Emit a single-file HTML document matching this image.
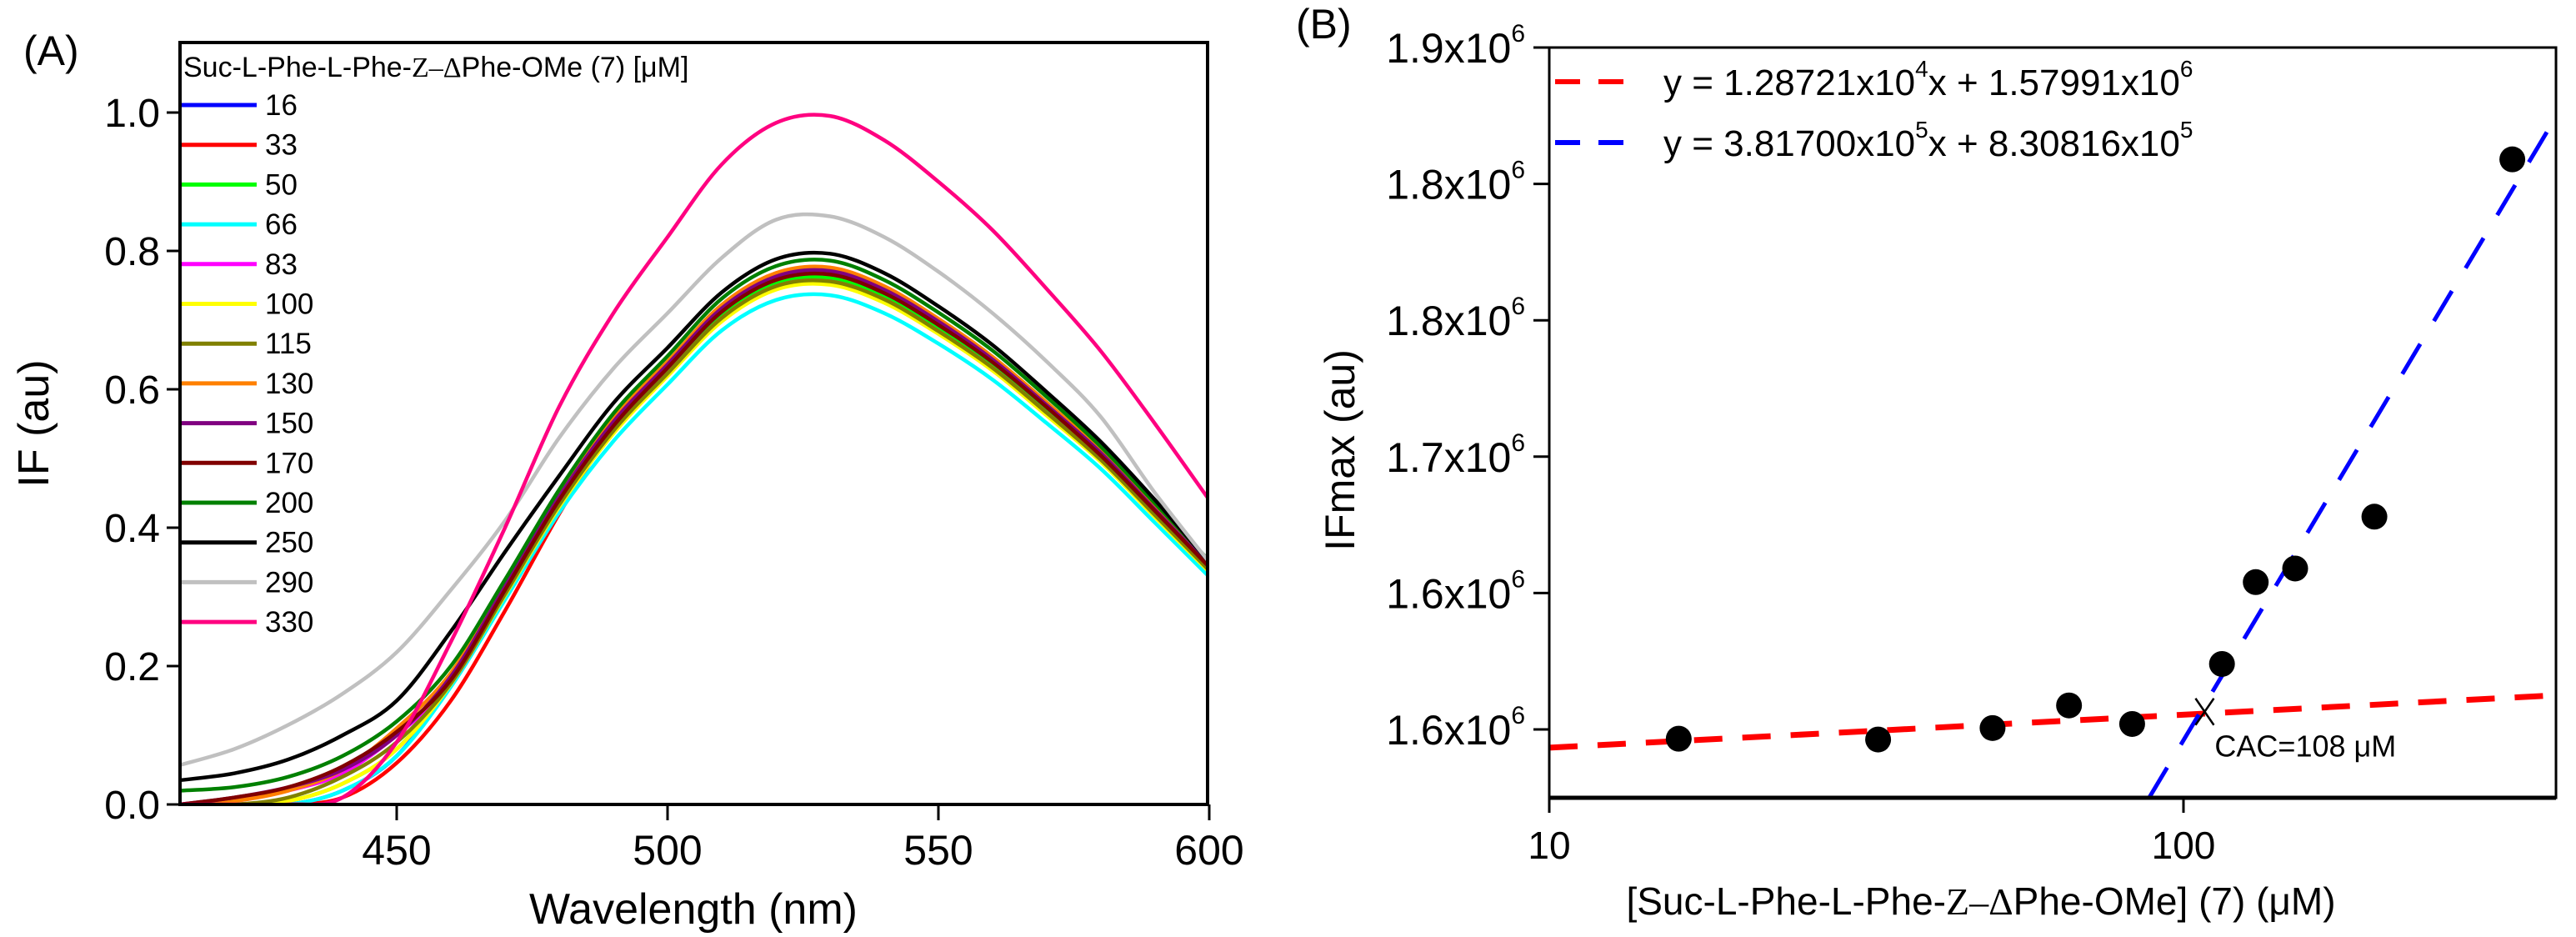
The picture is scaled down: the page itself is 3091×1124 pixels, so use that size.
<!DOCTYPE html>
<html><head><meta charset="utf-8"><style>
html,body{margin:0;padding:0;background:#fff}
svg{display:block;font-family:"Liberation Sans",sans-serif}
</style></head><body>
<svg id="fig" width="3091" height="1124" viewBox="0 0 3091 1124" xmlns="http://www.w3.org/2000/svg">
<defs>
<clipPath id="clipA"><rect x="216" y="51" width="1233" height="914"/></clipPath>
<clipPath id="clipB"><rect x="1859" y="57" width="1208" height="900"/></clipPath>
</defs>
<g id="panelA"></g>
<g id="panelB"></g>
</svg>
<script>
// ---------- Panel A data ----------
const wavelengths = [410,420,430,440,450,460,470,480,490,500,510,520,530,540,550,560,570,580,590,600];
const seriesLabels = ["16","33","50","66","83","100","115","130","150","170","200","250","290","330"];
const seriesColors = ["#0000ff","#ff0000","#00ff00","#00ffff","#ff00ff","#ffff00","#808000","#ff8000","#800080","#800000","#008000","#000000","#c0c0c0","#ff0080"];
const s16  = [0,0,0,0.02,0.07,0.175,0.304,0.433,0.540,0.623,0.703,0.749,0.756,0.730,0.684,0.631,0.566,0.498,0.418,0.338];
const s33  = [0,0,0,0.01,0.06,0.150,0.280,0.420,0.543,0.627,0.708,0.754,0.761,0.734,0.689,0.635,0.570,0.501,0.421,0.340];
const s50  = [0,0,0.005,0.03,0.08,0.176,0.306,0.436,0.543,0.627,0.708,0.754,0.761,0.734,0.689,0.635,0.570,0.501,0.421,0.340];
const s66  = [0,0,0,0.02,0.07,0.170,0.296,0.422,0.525,0.607,0.685,0.729,0.736,0.710,0.666,0.614,0.551,0.485,0.407,0.329];
const s83  = [0,0.005,0.02,0.045,0.10,0.175,0.304,0.433,0.540,0.623,0.703,0.749,0.756,0.730,0.684,0.631,0.566,0.498,0.418,0.338];
const s100 = [0,0,0.005,0.03,0.08,0.174,0.302,0.430,0.536,0.619,0.698,0.744,0.751,0.725,0.680,0.627,0.562,0.495,0.415,0.336];
const s115 = [0,0,0.01,0.04,0.09,0.175,0.304,0.433,0.540,0.623,0.703,0.749,0.756,0.730,0.684,0.631,0.566,0.498,0.418,0.338];
const s130 = [0,0.005,0.02,0.05,0.11,0.190,0.320,0.450,0.560,0.640,0.722,0.768,0.776,0.749,0.702,0.647,0.581,0.511,0.429,0.347];
const s150 = [0,0.01,0.025,0.05,0.10,0.185,0.315,0.445,0.553,0.636,0.717,0.763,0.771,0.744,0.698,0.643,0.577,0.508,0.426,0.345];
const s170 = [0,0.01,0.025,0.055,0.105,0.180,0.310,0.440,0.547,0.631,0.712,0.758,0.766,0.739,0.693,0.639,0.574,0.504,0.424,0.343];
const s200 = [0.02,0.025,0.04,0.07,0.12,0.200,0.325,0.455,0.565,0.648,0.731,0.778,0.786,0.758,0.711,0.656,0.589,0.517,0.435,0.352];
const s250 = [0.035,0.045,0.065,0.10,0.15,0.250,0.365,0.475,0.580,0.660,0.740,0.788,0.796,0.768,0.720,0.664,0.596,0.524,0.440,0.350];
const s290 = [0.057,0.08,0.115,0.16,0.22,0.310,0.410,0.530,0.630,0.710,0.790,0.845,0.850,0.820,0.770,0.710,0.640,0.560,0.450,0.350];
const s330 = [0,0,0,0.01,0.09,0.235,0.400,0.575,0.710,0.820,0.925,0.985,0.995,0.960,0.900,0.830,0.745,0.655,0.550,0.440];
const seriesValues = [s16,s33,s50,s66,s83,s100,s115,s130,s150,s170,s200,s250,s290,s330];
const xTicksA = [450,500,550,600];
const yTicksA = [0.0,0.2,0.4,0.6,0.8,1.0];

// ---------- Panel B data ----------
const concentrations = [16,33,50,66,83,115,130,150,200,330];
const ifMax = [1.6466,1.6463,1.6505,1.6588,1.652,1.674,1.704,1.709,1.728,1.859];
const yTickValsB = [1.65,1.70,1.75,1.80,1.85,1.90];
const yTickLabelsB = ["1.6","1.6","1.7","1.8","1.8","1.9"];
const xTicksB = [10,100];
const redFitX = [10,386];
const redFitY = [1.6433,1.6625];
const blueFitX = [88.3,386];
const blueFitY = [1.625,1.8743];
const cacPoint = [108,1.6565];

const NS="http://www.w3.org/2000/svg";
function mk(tag,attrs,parent){const e=document.createElementNS(NS,tag);for(const k in attrs)e.setAttribute(k,attrs[k]);parent.appendChild(e);return e;}

const xA = w => 216 + (w-410)*6.5;
const yA = v => 965 - v*830;
const xB = c => 1859 + (Math.log10(c)-1)*761;
const yB = v => 875 - (v-1.65)*3272;

const A=document.getElementById('panelA');
const B=document.getElementById('panelB');

function smoothPath(pts){
  let d=`M${pts[0][0]},${pts[0][1]}`;
  for(let i=0;i<pts.length-1;i++){
    const p0=pts[Math.max(0,i-1)],p1=pts[i],p2=pts[i+1],p3=pts[Math.min(pts.length-1,i+2)];
    const c1x=p1[0]+(p2[0]-p0[0])/6,c1y=p1[1]+(p2[1]-p0[1])/6;
    const c2x=p2[0]-(p3[0]-p1[0])/6,c2y=p2[1]-(p3[1]-p1[1])/6;
    d+=` C${c1x},${c1y} ${c2x},${c2y} ${p2[0]},${p2[1]}`;
  }
  return d;
}

// ---- Panel A ----
let t=mk('text',{x:28,y:78,'font-size':50},A);t.textContent='(A)';



const curves=mk('g',{'clip-path':'url(#clipA)'},A);


seriesValues.forEach((vals,i)=>{
  const pts=vals.map((v,j)=>[xA(wavelengths[j]),yA(v)]);
  const p=mk('path',{d:smoothPath(pts),fill:'none',stroke:seriesColors[i],'stroke-width':4.5,'stroke-linejoin':'round'},curves);
  
  
});

let fr=mk('rect',{x:216,y:51,width:1233,height:914,fill:'none',stroke:'#000','stroke-width':4},A);



yTicksA.forEach(v=>{
  mk('line',{x1:200,x2:216,y1:yA(v),y2:yA(v),stroke:'#000','stroke-width':3},A);
  const l=mk('text',{x:192,y:yA(v)+17,'font-size':48,'text-anchor':'end'},A);
  l.textContent=v.toFixed(1);
  
  
});
xTicksA.forEach(w=>{
  mk('line',{x1:xA(w),x2:xA(w),y1:965,y2:984,stroke:'#000','stroke-width':3},A);
  const l=mk('text',{x:xA(w),y:1037,'font-size':50,'text-anchor':'middle'},A);
  l.textContent=w;
  
  
});
t=mk('text',{x:832,y:1108,'font-size':52,'text-anchor':'middle'},A);t.textContent='Wavelength (nm)';


t=mk('text',{x:0,y:0,'font-size':52,'text-anchor':'middle',transform:'translate(58,508) rotate(-90)'},A);t.textContent='IF (au)';



const legA=mk('g',{},A);


t=mk('text',{x:220,y:92,'font-size':34},legA);
t.textContent='Suc-L-Phe-L-Phe-';
const tz=mk('tspan',{'font-family':'Liberation Serif, serif'},t);tz.textContent='Z–Δ';
const tr=mk('tspan',{},t);tr.textContent='Phe-OMe (7) [μM]';


seriesLabels.forEach((lab,i)=>{
  const y=126+i*47.7;
  const g=mk('g',{},legA);
  
  
  mk('line',{x1:218,x2:308,y1:y,y2:y,stroke:seriesColors[i],'stroke-width':5},g);
  const tt=mk('text',{x:318,y:y+12,'font-size':35},g);tt.textContent=lab;
});

// ---- Panel B ----
t=mk('text',{x:1555,y:46,'font-size':50},B);t.textContent='(B)';



const fits=mk('g',{'clip-path':'url(#clipB)'},B);
let ln=mk('line',{x1:xB(redFitX[0]),y1:yB(redFitY[0]),x2:xB(redFitX[1]),y2:yB(redFitY[1]),stroke:'#ff0000','stroke-width':7,'stroke-dasharray':'34 24'},fits);


ln=mk('line',{x1:xB(blueFitX[0]),y1:yB(blueFitY[0]),x2:xB(blueFitX[1]),y2:yB(blueFitY[1]),stroke:'#0000ff','stroke-width':5,'stroke-dasharray':'42 32'},fits);



concentrations.forEach((c,i)=>{
  const d=mk('circle',{cx:xB(c),cy:yB(ifMax[i]),r:15.5,fill:'#000'},B);
  
  
});

const cx=xB(cacPoint[0]),cy=yB(cacPoint[1]);
const cm=mk('g',{},B);


mk('line',{x1:cx-11,y1:cy-16,x2:cx+11,y2:cy+16,stroke:'#000','stroke-width':2.5},cm);
mk('line',{x1:cx+11,y1:cy-16,x2:cx-11,y2:cy+16,stroke:'#000','stroke-width':2.5},cm);
t=mk('text',{x:cx+12,y:cy+54,'font-size':36},B);t.textContent='CAC=108 μM';



fr=mk('rect',{x:1859,y:57,width:1208,height:900,fill:'none',stroke:'#000','stroke-width':3},B);


mk('line',{x1:1859,x2:3067,y1:957,y2:957,stroke:'#000','stroke-width':5},B);

yTickValsB.forEach((v,i)=>{
  const y=yB(v);
  mk('line',{x1:1840,x2:1859,y1:y,y2:y,stroke:'#000','stroke-width':3},B);
  const l=mk('text',{x:1830,y:y+18,'font-size':50,'text-anchor':'end'},B);
  l.textContent=yTickLabelsB[i]+'x10';
  const s=mk('tspan',{'font-size':30,dy:-25},l);s.textContent='6';
  
  
});
xTicksB.forEach(c=>{
  mk('line',{x1:xB(c),x2:xB(c),y1:957,y2:975,stroke:'#000','stroke-width':3},B);
  const l=mk('text',{x:xB(c),y:1030,'font-size':46,'text-anchor':'middle'},B);
  l.textContent=c;
  
  
});
t=mk('text',{x:2377,y:1097,'font-size':46,'text-anchor':'middle'},B);
t.textContent='[Suc-L-Phe-L-Phe-';
let ts=mk('tspan',{'font-family':'Liberation Serif, serif'},t);ts.textContent='Z–Δ';
ts=mk('tspan',{},t);ts.textContent='Phe-OMe] (7) (μM)';


t=mk('text',{x:0,y:0,'font-size':50,'text-anchor':'middle',transform:'translate(1625,540) rotate(-90)'},B);t.textContent='IFmax (au)';



const legB=mk('g',{},B);


const legRows=[["#ff0000",98,"y = 1.28721x10","4","x + 1.57991x10","6"],["#0000ff",171,"y = 3.81700x10","5","x + 8.30816x10","5"]];
legRows.forEach(r=>{
  const g=mk('g',{},legB);
  
  
  mk('line',{x1:1866,x2:1962,y1:r[1],y2:r[1],stroke:r[0],'stroke-width':6,'stroke-dasharray':'30 22'},g);
  const tt=mk('text',{x:1996,y:r[1]+16,'font-size':44},g);
  tt.appendChild(document.createTextNode(r[2]));
  let s1=mk('tspan',{'font-size':28,dy:-22},tt);s1.textContent=r[3];
  let s2=mk('tspan',{dy:22},tt);s2.textContent=r[4];
  let s3=mk('tspan',{'font-size':28,dy:-22},tt);s3.textContent=r[5];
});
</script>
</body></html>
